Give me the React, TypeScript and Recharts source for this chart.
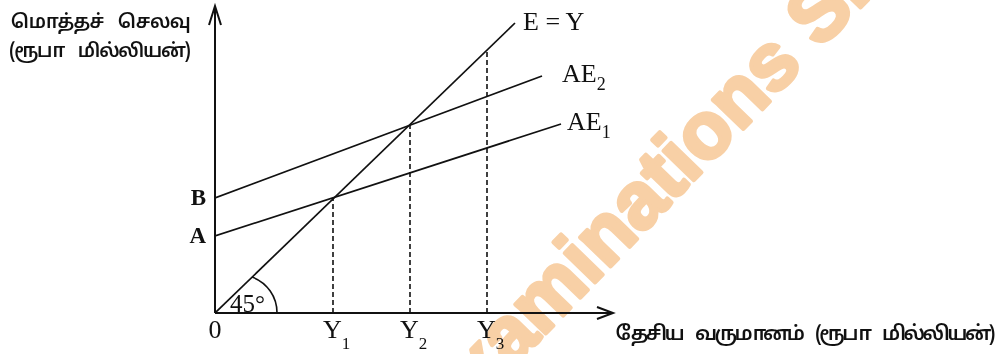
import React from "react";
import { LineChart, Line, XAxis, YAxis, ReferenceLine, ReferenceDot, LabelList, Customized } from "recharts";

// national income (x) and aggregate expenditure (y)
const incomeTicks = [0, 118, 195, 272];
const incomeLetters = ["0", "Y", "Y", "Y"];
const incomeSubs = ["", "1", "2", "3"];

const spendTicks = [77, 115];
const spendLetters = ["A", "B"];

const equalityLine = [
  { y: 0, e: 0 },
  { y: 300, e: 290 },
];
const ae1Line = [
  { y: 0, e: 77 },
  { y: 346, e: 189 },
];
const ae2Line = [
  { y: 0, e: 115 },
  { y: 327, e: 237 },
];

// dashed drops from the equilibrium points
const dropIncome = [118, 195, 272];
const dropSpend = [115, 188, 263];

const xAxisEnd = 398;
const yAxisEnd = 307;

const serif = "'Liberation Serif', 'Times New Roman', serif";
const tamil = "'Noto Sans Tamil', 'Lohit Tamil', 'Latha', 'Noto Sans', sans-serif";

const IncomeTick = (props: any) => {
  const { x, y, payload } = props;
  const i = incomeTicks.indexOf(payload.value);
  return (
    <text x={i === 0 ? x : x - 10} y={y + 25} fontFamily={serif} fontSize={26} fill="#111" textAnchor={i === 0 ? "middle" : "start"}>
      {incomeLetters[i]}
      {incomeSubs[i] && (
        <tspan fontSize={17} dx={0} dy={11}>
          {incomeSubs[i]}
        </tspan>
      )}
    </text>
  );
};

const SpendTick = (props: any) => {
  const { x, y, payload } = props;
  const i = spendTicks.indexOf(payload.value);
  return (
    <text x={x - 9} y={y + 7} fontFamily={serif} fontSize={23} fontWeight="bold" fill="#111" textAnchor="end">
      {spendLetters[i]}
    </text>
  );
};

const endLabel = (main: string, sub: string, dx: number, dy: number) => (props: any) => {
  const { x, y, index } = props;
  if (index !== 1) return null;
  return (
    <text x={x + dx} y={y + dy} fontFamily={serif} fontSize={26} fill="#111">
      {main}
      {sub && (
        <tspan fontSize={18} dx={0} dy={8}>
          {sub}
        </tspan>
      )}
    </text>
  );
};

const ArrowUp = (p: any) => (
  <path d={`M${p.cx - 6},${p.cy + 19} L${p.cx},${p.cy} L${p.cx + 6},${p.cy + 19}`} fill="none" stroke="#111" strokeWidth={2} />
);
const ArrowRight = (p: any) => (
  <path d={`M${p.cx - 16},${p.cy - 6} L${p.cx},${p.cy} L${p.cx - 16},${p.cy + 6}`} fill="none" stroke="#111" strokeWidth={2} />
);
const AngleMark = (p: any) => (
  <g>
    <path d={`M${p.cx + 37},${p.cy - 36} A38,38 0 0 1 ${p.cx + 62},${p.cy}`} fill="none" stroke="#111" strokeWidth={1.6} />
    <text x={p.cx + 15} y={p.cy - 1} fontFamily={serif} fontSize={25} fill="#111">
      45°
    </text>
  </g>
);

const Titles = () => (
  <g fontFamily={tamil} fontWeight={600} fill="#111">
    <text x={10} y={28} fontSize={19} wordSpacing={10} textLength={180} lengthAdjust="spacing">
      மொத்தச் செலவு
    </text>
    <text x={9} y={57} fontSize={19} wordSpacing={10} textLength={182} lengthAdjust="spacing">
      (ரூபா மில்லியன்)
    </text>
    <text x={613} y={340} fontSize={20} wordSpacing={10} textLength={380} lengthAdjust="spacing">
      தேசிய வருமானம் (ரூபா மில்லியன்)
    </text>
  </g>
);

const Watermark = () => (
  <text
    x={443}
    y={440}
    transform="rotate(-46 443 440)"
    fontFamily="'Liberation Sans', Arial, sans-serif"
    fontWeight="bold"
    fontSize={80}
    fill="#f8d0a6"
    stroke="#f8d0a6"
    strokeWidth={4}
    strokeLinejoin="round"
    style={{ mixBlendMode: "multiply" }}
  >
    Examinations Sri Lanka
  </text>
);

export default function App() {
  return (
    <div style={{ width: 1000, height: 354, background: "#fff" }}>
      <style>{`body{margin:0}`}</style>
      <LineChart width={1000} height={354} margin={{ top: 0, right: 0, bottom: 0, left: 185 }}>
        <XAxis
          type="number"
          dataKey="y"
          domain={[0, 785]}
          ticks={incomeTicks}
          interval={0}
          height={41}
          axisLine={false}
          tickLine={false}
          tickSize={0}
          tickMargin={0}
          tick={<IncomeTick />}
          allowDataOverflow
        />
        <YAxis
          type="number"
          dataKey="e"
          domain={[0, 313]}
          ticks={spendTicks}
          interval={0}
          width={30}
          axisLine={false}
          tickLine={false}
          tickSize={0}
          tickMargin={0}
          tick={<SpendTick />}
          allowDataOverflow
        />
        <Customized component={<Titles />} />
        {dropIncome.map((x, i) => (
          <ReferenceLine
            key={x}
            segment={[
              { x, y: 0 },
              { x, y: dropSpend[i] },
            ]}
            stroke="#111"
            strokeWidth={1.6}
            strokeDasharray="5 3"
            ifOverflow="visible"
          />
        ))}
        <ReferenceLine segment={[{ x: 0, y: 0 }, { x: xAxisEnd, y: 0 }]} stroke="#111" strokeWidth={2} ifOverflow="visible" />
        <ReferenceLine segment={[{ x: 0, y: 0 }, { x: 0, y: yAxisEnd }]} stroke="#111" strokeWidth={2} ifOverflow="visible" />
        <ReferenceDot x={xAxisEnd} y={0} r={0} shape={ArrowRight} ifOverflow="visible" />
        <ReferenceDot x={0} y={yAxisEnd} r={0} shape={ArrowUp} ifOverflow="visible" />
        <ReferenceDot x={0} y={0} r={0} shape={AngleMark} ifOverflow="visible" />
        <Line data={equalityLine} dataKey="e" stroke="#111" strokeWidth={1.7} dot={false} isAnimationActive={false}>
          <LabelList dataKey="e" content={endLabel("E = Y", "", 8, 7)} />
        </Line>
        <Line data={ae2Line} dataKey="e" stroke="#111" strokeWidth={1.7} dot={false} isAnimationActive={false}>
          <LabelList dataKey="e" content={endLabel("AE", "2", 20, 6)} />
        </Line>
        <Line data={ae1Line} dataKey="e" stroke="#111" strokeWidth={1.7} dot={false} isAnimationActive={false}>
          <LabelList dataKey="e" content={endLabel("AE", "1", 6, 6)} />
        </Line>
        <Customized component={<Watermark />} />
      </LineChart>
    </div>
  );
}
